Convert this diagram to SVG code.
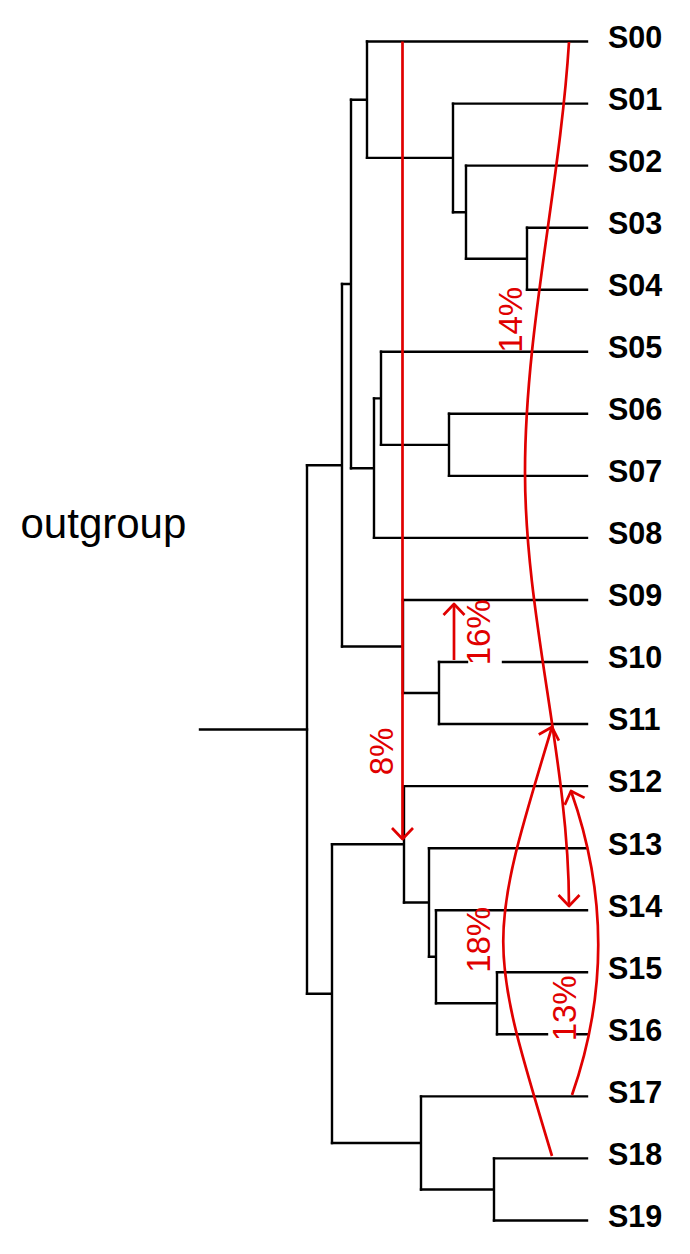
<svg xmlns="http://www.w3.org/2000/svg" width="690" height="1254" viewBox="0 0 690 1254">
<style>
.br{fill:none;stroke:#000;stroke-width:2.4;stroke-linecap:square;stroke-linejoin:miter}
.lab{font-family:"Liberation Sans",Arial,Helvetica,sans-serif;font-size:30.5px;font-weight:bold;fill:#000}
.og{font-family:"Liberation Sans",Arial,Helvetica,sans-serif;font-size:42px;fill:#000}
.red{fill:none;stroke:#e00000;stroke-width:2.7;marker-end:url(#ah)}
.pct{font-family:"Liberation Sans",Arial,Helvetica,sans-serif;font-size:33px;fill:#e00000;text-anchor:middle}
</style>
<defs>
<marker id="ah" markerUnits="userSpaceOnUse" orient="auto" refX="0" refY="0" markerWidth="30" markerHeight="30" viewBox="-15 -15 30 30" overflow="visible">
<path d="M-11,-10.5 L0,0 L-11,10.5" fill="none" stroke="#e00000" stroke-width="2.7" stroke-linejoin="round"/>
</marker>
</defs>
<rect width="690" height="1254" fill="#fff"/>
<g id="tree">
<g id="outgroup"><path class="br" d="M200,729.5 H307"/><text class="og" x="20.5" y="538">outgroup</text></g>
<g id="S00"><path class="br" d="M367,41.5 H587"/><text class="lab" x="608" y="47.8">S00</text></g>
<g id="S01"><path class="br" d="M453,103.6 H587"/><text class="lab" x="608" y="109.9">S01</text></g>
<g id="S02"><path class="br" d="M466,165.6 H587"/><text class="lab" x="608" y="171.9">S02</text></g>
<g id="S03"><path class="br" d="M527,227.7 H587"/><text class="lab" x="608" y="234">S03</text></g>
<g id="S04"><path class="br" d="M527,289.7 H587"/><text class="lab" x="608" y="296">S04</text></g>
<g id="S05"><path class="br" d="M381,351.8 H587"/><text class="lab" x="608" y="358.1">S05</text></g>
<g id="S06"><path class="br" d="M449,413.8 H587"/><text class="lab" x="608" y="420.1">S06</text></g>
<g id="S07"><path class="br" d="M449,475.9 H587"/><text class="lab" x="608" y="482.2">S07</text></g>
<g id="S08"><path class="br" d="M374,537.9 H587"/><text class="lab" x="608" y="544.2">S08</text></g>
<g id="S09"><path class="br" d="M403,600 H587"/><text class="lab" x="608" y="606.3">S09</text></g>
<g id="S10"><path class="br" d="M439,662 H467 M503,662 H587"/><text class="lab" x="608" y="668.3">S10</text></g>
<g id="S11"><path class="br" d="M439,724 H587"/><text class="lab" x="608" y="730.3">S11</text></g>
<g id="S12"><path class="br" d="M404,786.1 H587"/><text class="lab" x="608" y="792.4">S12</text></g>
<g id="S13"><path class="br" d="M429,848.2 H587"/><text class="lab" x="608" y="854.5">S13</text></g>
<g id="S14"><path class="br" d="M436,910.2 H587"/><text class="lab" x="608" y="916.5">S14</text></g>
<g id="S15"><path class="br" d="M497,972.3 H587"/><text class="lab" x="608" y="978.6">S15</text></g>
<g id="S16"><path class="br" d="M497,1034.3 H547 M577,1034.3 H587"/><text class="lab" x="608" y="1040.6">S16</text></g>
<g id="S17"><path class="br" d="M421,1096.4 H587"/><text class="lab" x="608" y="1102.7">S17</text></g>
<g id="S18"><path class="br" d="M494,1158.4 H587"/><text class="lab" x="608" y="1164.7">S18</text></g>
<g id="S19"><path class="br" d="M494,1220.5 H587"/><text class="lab" x="608" y="1226.8">S19</text></g>
<g id="nA"><path class="br" d="M527,227.7 V289.7 M466,258.7 H527"/></g>
<g id="nB"><path class="br" d="M466,165.6 V258.7 M453,212.2 H466"/></g>
<g id="nC"><path class="br" d="M453,103.6 V212.2 M367,157.9 H453"/></g>
<g id="nD"><path class="br" d="M367,41.5 V157.9 M351,99.7 H367"/></g>
<g id="nE"><path class="br" d="M449,413.8 V475.9 M381,444.9 H449"/></g>
<g id="nF"><path class="br" d="M381,351.8 V444.9 M374,398.4 H381"/></g>
<g id="nG"><path class="br" d="M374,398.4 V537.9 M351,468.2 H374"/></g>
<g id="nH"><path class="br" d="M351,99.7 V468.2 M342,284 H351"/></g>
<g id="nI"><path class="br" d="M439,662 V724 M403,693 H439"/></g>
<g id="nJ"><path class="br" d="M403,600 V693 M342,646.5 H403"/></g>
<g id="nK"><path class="br" d="M342,284 V646.5 M307,465.3 H342"/></g>
<g id="nL"><path class="br" d="M497,972.3 V1034.3 M436,1003.3 H497"/></g>
<g id="nM"><path class="br" d="M436,910.2 V1003.3 M429,956.8 H436"/></g>
<g id="nN"><path class="br" d="M429,848.2 V956.8 M404,902.5 H429"/></g>
<g id="nO"><path class="br" d="M404,786.1 V902.5 M332,844.3 H404"/></g>
<g id="nP"><path class="br" d="M494,1158.4 V1220.5 M421,1189.5 H494"/></g>
<g id="nQ"><path class="br" d="M421,1096.4 V1189.5 M332,1143 H421"/></g>
<g id="nR"><path class="br" d="M332,844.3 V1143 M307,993.7 H332"/></g>
<g id="nRoot"><path class="br" d="M307,465.3 V993.7"/></g>
</g>
<g id="connectors">
<g id="flow8"><path class="red" d="M402.5,41.5 V839"/><text class="pct" transform="translate(393,751.5) rotate(-90)">8%</text></g>
<g id="flow14"><path class="red" d="M569,42 C560,186 525,330 525,472 C525,618 569,762 569,906"/><text class="pct" transform="translate(522,319.8) rotate(-90)">14%</text></g>
<g id="flow16"><path class="red" d="M454,660 V604"/><text class="pct" transform="translate(490,632.3) rotate(-90)">16%</text></g>
<g id="flow18"><path class="red" d="M552,1156 C487,941.5 487,941.5 552,727"/><text class="pct" transform="translate(490,939.8) rotate(-90)">18%</text></g>
<g id="flow13"><path class="red" d="M572,1095 Q625,943.5 571,791"/><text class="pct" transform="translate(576,1008.3) rotate(-90)">13%</text></g>
</g>
</svg>
